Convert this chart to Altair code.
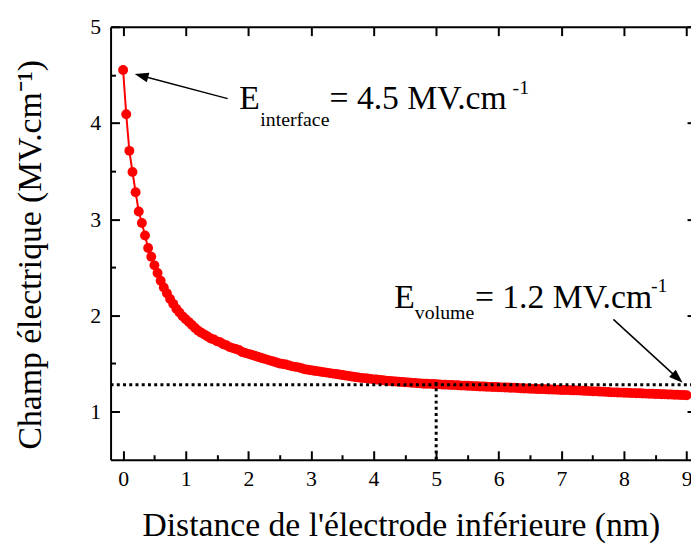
import altair as alt
import pandas as pd

# ---- data ----
distance_fine = [0.00, 0.05, 0.10, 0.15, 0.20, 0.25, 0.30, 0.35, 0.40, 0.45,
                 0.50, 0.55, 0.60, 0.65, 0.70, 0.75, 0.80, 0.85, 0.90, 0.95,
                 1.00, 1.05, 1.10, 1.15, 1.20, 1.25, 1.30, 1.35, 1.40, 1.45,
                 1.50, 1.55, 1.60, 1.65, 1.70, 1.75, 1.80, 1.85, 1.90, 1.95, 2.00]
champ_fine = [4.55, 4.09, 3.71, 3.49, 3.28, 3.08, 2.96, 2.83, 2.70, 2.61,
              2.52, 2.44, 2.36, 2.29, 2.23, 2.17, 2.12, 2.07, 2.03, 1.99,
              1.96, 1.93, 1.90, 1.87, 1.84, 1.82, 1.80, 1.78, 1.76, 1.75,
              1.73, 1.72, 1.70, 1.69, 1.67, 1.66, 1.65, 1.64, 1.62, 1.61, 1.60]
distance_tail = [2.05, 2.10, 2.15, 2.20, 2.25, 2.30, 2.35, 2.40, 2.45, 2.50,
                 2.55, 2.60, 2.65, 2.70, 2.75, 2.80, 2.85, 2.90, 2.95, 3.00,
                 3.05, 3.10, 3.15, 3.20, 3.25, 3.30, 3.35, 3.40, 3.45, 3.50,
                 3.55, 3.60, 3.65, 3.70, 3.75, 3.80, 3.85, 3.90, 3.95, 4.00,
                 4.05, 4.10, 4.15, 4.20, 4.25, 4.30, 4.35, 4.40, 4.45, 4.50,
                 4.55, 4.60, 4.65, 4.70, 4.75, 4.80, 4.85, 4.90, 4.95, 5.00,
                 5.05, 5.10, 5.15, 5.20, 5.25, 5.30, 5.35, 5.40, 5.45, 5.50,
                 5.55, 5.60, 5.65, 5.70, 5.75, 5.80, 5.85, 5.90, 5.95, 6.00,
                 6.05, 6.10, 6.15, 6.20, 6.25, 6.30, 6.35, 6.40, 6.45, 6.50,
                 6.55, 6.60, 6.65, 6.70, 6.75, 6.80, 6.85, 6.90, 6.95, 7.00,
                 7.05, 7.10, 7.15, 7.20, 7.25, 7.30, 7.35, 7.40, 7.45, 7.50,
                 7.55, 7.60, 7.65, 7.70, 7.75, 7.80, 7.85, 7.90, 7.95, 8.00,
                 8.05, 8.10, 8.15, 8.20, 8.25, 8.30, 8.35, 8.40, 8.45, 8.50,
                 8.55, 8.60, 8.65, 8.70, 8.75, 8.80, 8.85, 8.90, 8.95, 9.00]
champ_tail = [1.59, 1.58, 1.57, 1.56, 1.55, 1.54, 1.53, 1.52, 1.51, 1.50,
              1.495, 1.49, 1.48, 1.47, 1.465, 1.46, 1.45, 1.44, 1.435, 1.43,
              1.425, 1.42, 1.415, 1.41, 1.405, 1.40, 1.395, 1.39, 1.385, 1.38,
              1.375, 1.37, 1.365, 1.36, 1.355, 1.35, 1.348, 1.345, 1.34, 1.335,
              1.333, 1.33, 1.325, 1.32, 1.318, 1.315, 1.313, 1.31, 1.308, 1.305,
              1.303, 1.30, 1.298, 1.295, 1.293, 1.29, 1.29, 1.288, 1.287, 1.285,
              1.283, 1.28, 1.28, 1.278, 1.277, 1.275, 1.273, 1.27, 1.27, 1.268,
              1.267, 1.265, 1.263, 1.26, 1.26, 1.258, 1.257, 1.255, 1.255, 1.253,
              1.252, 1.25, 1.25, 1.248, 1.247, 1.245, 1.243, 1.24, 1.24, 1.238,
              1.237, 1.235, 1.235, 1.233, 1.232, 1.23, 1.23, 1.228, 1.227, 1.225,
              1.225, 1.223, 1.222, 1.22, 1.22, 1.218, 1.217, 1.215, 1.213, 1.21,
              1.21, 1.208, 1.207, 1.205, 1.203, 1.20, 1.20, 1.198, 1.197, 1.195,
              1.195, 1.193, 1.192, 1.19, 1.19, 1.188, 1.187, 1.185, 1.185, 1.183,
              1.182, 1.18, 1.18, 1.178, 1.177, 1.175, 1.175, 1.173, 1.172, 1.17]

x_ticks = [0, 0.5, 1, 1.5, 2, 2.5, 3, 3.5, 4, 4.5, 5, 5.5, 6, 6.5, 7, 7.5, 8, 8.5, 9]
x_major = [0, 1, 2, 3, 4, 5, 6, 7, 8, 9]
y_ticks = [1, 1.5, 2, 2.5, 3, 3.5, 4, 4.5, 5]
y_major = [1, 2, 3, 4, 5]

x_domain = [-0.2, 9.07]
y_domain = [0.5, 5]

# reference (dotted) lines
ref_level = [1.28]
ref_distance = [5.0]
ref_v_top = [1.34]

# annotations
ann_text = ["E", "interface", "= 4.5 MV.cm", "-1",
            "E", "volume", "= 1.2 MV.cm", "-1"]
ann_x = [1.855, 2.191, 3.297, 6.22,
         4.329, 4.660, 5.619, 8.431]
ann_y = [4.150, 3.972, 4.150, 4.304,
         2.078, 1.958, 2.078, 2.240]
ann_fs = [34, 20, 34, 20, 34, 20, 34, 20]

arrow_x = [1.67, 7.83]
arrow_y = [4.253, 1.958]
arrow_x2 = [0.292, 8.855]
arrow_y2 = [4.491, 1.348]
arrow_angle = [284.9, 132.4]

df = pd.DataFrame({"distance": distance_fine + distance_tail,
                   "champ": champ_fine + champ_tail})

xs = alt.Scale(domain=x_domain, nice=False, zero=False)
ys = alt.Scale(domain=y_domain, nice=False, zero=False)

FONT = "Liberation Serif"
lab_expr = "datum.value % 1 === 0 ? format(datum.value, 'd') : ''"
tick_expr = alt.ExprRef(expr="datum.value % 1 === 0 ? -9 : -5")

common = dict(labelFont=FONT, labelFontSize=22, labelColor="black",
              titleFont=FONT, titleFontSize=34, titleFontWeight="normal",
              titleColor="black", domainColor="black", domainWidth=2,
              tickColor="black", tickWidth=2, grid=False)

x_axis_bottom = alt.Axis(orient="bottom", values=x_ticks, labelExpr=lab_expr,
                         tickSize=tick_expr, labelPadding=18,
                         title="Distance de l'électrode inférieure (nm)",
                         titleX=293.4, titleY=76.6, titleAlign="center",
                         titleBaseline="alphabetic", **common)
y_axis_left = alt.Axis(orient="left", values=y_ticks, labelExpr=lab_expr,
                       tickSize=tick_expr, labelPadding=19,
                       title="Champ électrique (MV.cm⁻¹)",
                       titleX=-80.7, titleY=230, titleAngle=270,
                       titleAlign="center", titleBaseline="middle", **common)
x_axis_top = alt.Axis(orient="top", values=x_major, labels=False,
                      tickSize=alt.ExprRef(expr="-9"), title=None, **common)
y_axis_right = alt.Axis(orient="right", values=y_major, labels=False, domain=False,
                        tickSize=alt.ExprRef(expr="-4"), title=None, **common)

line = alt.Chart(df).mark_line(color="#ff0000", strokeWidth=2).encode(
    x=alt.X("distance:Q", scale=xs, axis=x_axis_bottom),
    y=alt.Y("champ:Q", scale=ys, axis=y_axis_left),
)
pts = alt.Chart(df).mark_circle(color="#ff0000", size=100, opacity=1).encode(
    x=alt.X("distance:Q", scale=xs, axis=x_axis_top),
    y=alt.Y("champ:Q", scale=ys, axis=y_axis_right),
)

hdf = pd.DataFrame({"x": [x_domain[0]], "x2": [x_domain[1]], "y": ref_level})
dot_h = alt.Chart(hdf).mark_rule(color="black", strokeWidth=3, strokeDash=[3, 3.3]).encode(
    x=alt.X("x:Q", scale=xs, axis=None), x2="x2:Q",
    y=alt.Y("y:Q", scale=ys, axis=None),
)
vdf = pd.DataFrame({"x": ref_distance, "y": [y_domain[0]], "y2": ref_v_top})
dot_v = alt.Chart(vdf).mark_rule(color="black", strokeWidth=3, strokeDash=[3, 3.3]).encode(
    x=alt.X("x:Q", scale=xs, axis=None),
    y=alt.Y("y:Q", scale=ys, axis=None), y2="y2:Q",
)

adf = pd.DataFrame({"x": arrow_x, "y": arrow_y, "x2": arrow_x2, "y2": arrow_y2,
                    "angle": arrow_angle})
arrows = alt.Chart(adf).mark_rule(color="black", strokeWidth=1.5).encode(
    x=alt.X("x:Q", scale=xs, axis=None), x2="x2:Q",
    y=alt.Y("y:Q", scale=ys, axis=None), y2="y2:Q",
)
heads = alt.Chart(adf).mark_point(shape="M0,-1L0.7,1L-0.7,1Z", filled=True,
                                  color="black", size=196, opacity=1).encode(
    x=alt.X("x2:Q", scale=xs, axis=None),
    y=alt.Y("y2:Q", scale=ys, axis=None),
    angle=alt.Angle("angle:Q", scale=None),
)

tdf = pd.DataFrame({"x": ann_x, "y": ann_y, "text": ann_text, "fs": ann_fs})
texts = alt.Chart(tdf).mark_text(font=FONT, align="left", baseline="alphabetic",
                                 color="black").encode(
    x=alt.X("x:Q", scale=xs, axis=None),
    y=alt.Y("y:Q", scale=ys, axis=None),
    text="text:N",
    size=alt.Size("fs:Q", scale=None, legend=None),
)

chart = alt.layer(line, pts, dot_h, dot_v, arrows, heads, texts).resolve_axis(
    x="independent", y="independent"
).properties(
    width=586.8, height=437.7,
    autosize=alt.AutoSizeParams(type="none"),
    padding={"left": 103.7, "top": 16, "right": 0, "bottom": 84},
).configure(
    font=FONT,
    style={"guide-label": {"font": FONT}, "guide-title": {"font": FONT}},
).configure_view(stroke=None).configure_axis(labelFont=FONT, titleFont=FONT)

chart.save("out.html", embed_options={"renderer": "svg", "actions": False})
